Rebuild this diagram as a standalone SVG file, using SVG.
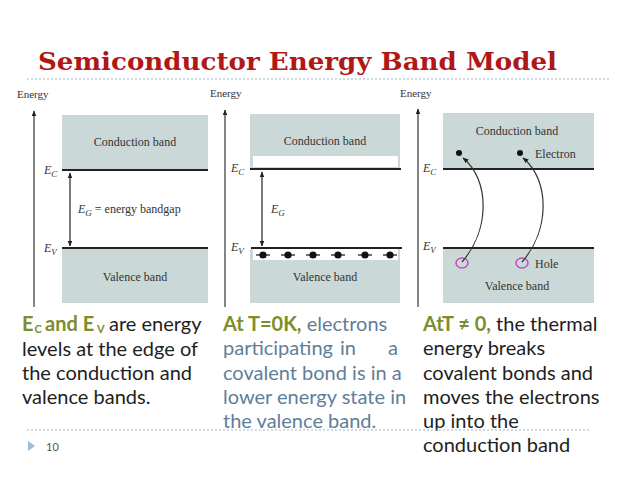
<svg xmlns="http://www.w3.org/2000/svg" width="638" height="479" viewBox="0 0 638 479">
<style>
.band{fill:#cbd8d8}
.lvl{stroke:#222;stroke-width:2}
.axis{stroke:#333;stroke-width:1.2}
.lbl{font-family:"Liberation Serif",serif;font-size:12px;fill:#333}
.it{font-family:"Liberation Serif",serif;font-style:italic;font-size:12px;fill:#333}
.en{font-family:"Liberation Serif",serif;font-size:11px;fill:#333}
.body{font-family:Lato,"Open Sans",sans-serif;font-size:20px;fill:#1e1e1e}
.ol{fill:#7d8d2c;font-weight:bold}
.bl{fill:#5f7e98}
.dash{stroke:#9db6c6;stroke-width:1;stroke-dasharray:2 2}
</style>
<defs>
<marker id="ah" viewBox="0 0 10 10" refX="9" refY="5" markerWidth="5" markerHeight="5" orient="auto-start-reverse"><path d="M0,1 L10,5 L0,9 z" fill="#222"/></marker>
</defs>
<rect width="638" height="479" fill="#fff"/>
<g id="title">
<text x="38" y="70" font-family="'DejaVu Serif','Liberation Serif',serif" font-weight="bold" font-size="24" fill="#b01818" textLength="519" lengthAdjust="spacingAndGlyphs">Semiconductor Energy Band Model</text>
<line class="dash" x1="27" y1="79" x2="610" y2="79"/>
</g>
<g id="panel1">
<text class="en" x="17" y="98">Energy</text>
<line class="axis" x1="34" y1="307" x2="34" y2="111" marker-end="url(#ah)"/>
<rect class="band" x="62" y="115" width="146" height="54"/>
<rect class="band" x="62" y="249" width="146" height="54"/>
<line class="lvl" x1="62" y1="170" x2="208" y2="170"/>
<line class="lvl" x1="62" y1="248" x2="208" y2="248"/>
<text class="lbl" x="135" y="146" text-anchor="middle">Conduction band</text>
<text class="lbl" x="135" y="281" text-anchor="middle">Valence band</text>
<text class="it" x="44" y="174">E<tspan font-size="9" dy="3">C</tspan></text>
<text class="it" x="44" y="252">E<tspan font-size="9" dy="3">V</tspan></text>
<line x1="70" y1="173" x2="70" y2="246" stroke="#222" stroke-width="1.2" marker-start="url(#ah)" marker-end="url(#ah)"/>
<text class="lbl" x="78" y="213"><tspan font-style="italic">E</tspan><tspan font-style="italic" font-size="9" dy="3">G</tspan><tspan dy="-3"> = energy bandgap</tspan></text>
</g>
<g id="panel2">
<text class="en" x="210" y="97">Energy</text>
<line class="axis" x1="225" y1="307" x2="225" y2="110" marker-end="url(#ah)"/>
<rect class="band" x="250" y="114" width="150" height="55"/>
<rect x="253" y="156" width="145" height="11" fill="#fff"/>
<rect class="band" x="250" y="249" width="150" height="54"/>
<rect x="253" y="249" width="145" height="11" fill="#fff"/>
<line class="lvl" x1="250" y1="169" x2="401" y2="169"/>
<line class="lvl" x1="251" y1="248" x2="402" y2="248"/>
<text class="lbl" x="325" y="145" text-anchor="middle">Conduction band</text>
<text class="lbl" x="325" y="281" text-anchor="middle">Valence band</text>
<text class="it" x="231" y="172">E<tspan font-size="9" dy="3">C</tspan></text>
<text class="it" x="231" y="251">E<tspan font-size="9" dy="3">V</tspan></text>
<line x1="262" y1="172" x2="262" y2="246" stroke="#222" stroke-width="1.2" marker-start="url(#ah)" marker-end="url(#ah)"/>
<text class="it" x="271" y="213">E<tspan font-size="9" dy="3">G</tspan></text>
<g fill="#111" stroke="#111" stroke-width="1.2">
<circle cx="263" cy="255" r="3"/><line x1="256" y1="255" x2="270" y2="255"/>
<circle cx="288" cy="255" r="3"/><line x1="281" y1="255" x2="295" y2="255"/>
<circle cx="313" cy="255" r="3"/><line x1="306" y1="255" x2="320" y2="255"/>
<circle cx="338" cy="255" r="3"/><line x1="331" y1="255" x2="345" y2="255"/>
<circle cx="365" cy="255" r="3"/><line x1="358" y1="255" x2="372" y2="255"/>
<circle cx="390" cy="255" r="3"/><line x1="383" y1="255" x2="397" y2="255"/>
</g>
</g>
<g id="panel3">
<text class="en" x="400" y="97">Energy</text>
<line class="axis" x1="418" y1="307" x2="418" y2="109" marker-end="url(#ah)"/>
<rect class="band" x="443" y="113" width="151" height="56"/>
<rect class="band" x="443" y="249" width="151" height="54"/>
<line class="lvl" x1="443" y1="169" x2="594" y2="169"/>
<line class="lvl" x1="443" y1="248" x2="594" y2="248"/>
<text class="lbl" x="517" y="135" text-anchor="middle">Conduction band</text>
<text class="lbl" x="535" y="158">Electron</text>
<text class="lbl" x="535" y="268">Hole</text>
<text class="lbl" x="517" y="290" text-anchor="middle">Valence band</text>
<text class="it" x="423" y="172">E<tspan font-size="9" dy="3">C</tspan></text>
<text class="it" x="423" y="250">E<tspan font-size="9" dy="3">V</tspan></text>
<circle cx="459" cy="153" r="3" fill="#111"/>
<circle cx="520" cy="153" r="3" fill="#111"/>
<ellipse cx="462" cy="263" rx="6" ry="5" fill="none" stroke="#c04cc4" stroke-width="1.5"/>
<ellipse cx="522" cy="263" rx="6" ry="5" fill="none" stroke="#c04cc4" stroke-width="1.5"/>
</g>
<g id="connectors" fill="none" stroke="#333" stroke-width="1.2">
<path d="M462,262 C490,230 490,180 463,158" marker-end="url(#ah)"/>
<path d="M522,262 C550,230 550,180 523,158" marker-end="url(#ah)"/>
</g>
<g id="text1" class="body">
<text class="ol" x="22" y="331">E</text>
<text class="ol" x="34.5" y="333" font-size="11">C</text>
<text class="ol" x="45" y="331">and E</text>
<text class="ol" x="97" y="333" font-size="11">V</text>
<text x="109" y="331">are energy</text>
<text x="22" y="356">levels at the edge of</text>
<text x="22" y="380">the conduction and</text>
<text x="22" y="404">valence bands.</text>
</g>
<g id="text2" class="body">
<text x="223" y="331"><tspan class="ol">At  T=0K,</tspan><tspan class="bl"> electrons</tspan></text>
<text class="bl" x="223" y="355">participating</text>
<text class="bl" x="340" y="355">in</text>
<text class="bl" x="388" y="355">a</text>
<text class="bl" x="223" y="380">covalent bond is in a</text>
<text class="bl" x="223" y="404">lower energy state in</text>
<text class="bl" x="223" y="428">the valence band.</text>
</g>
<g id="text3" class="body">
<text x="423" y="331"><tspan class="ol">AtT ≠ 0,</tspan> the thermal</text>
<text x="423" y="355">energy breaks</text>
<text x="423" y="380">covalent bonds and</text>
<text x="423" y="404">moves the electrons</text>
<text x="423" y="428">up into the</text>
<text x="423" y="452">conduction band</text>
</g>
<g id="footer">
<line class="dash" x1="27" y1="430" x2="590" y2="430"/>
<path d="M28,441 L35,446 L28,451 z" fill="#9dbdd6"/>
<text x="46" y="451" font-family="Lato,sans-serif" font-size="11" fill="#555">10</text>
</g>
</svg>
